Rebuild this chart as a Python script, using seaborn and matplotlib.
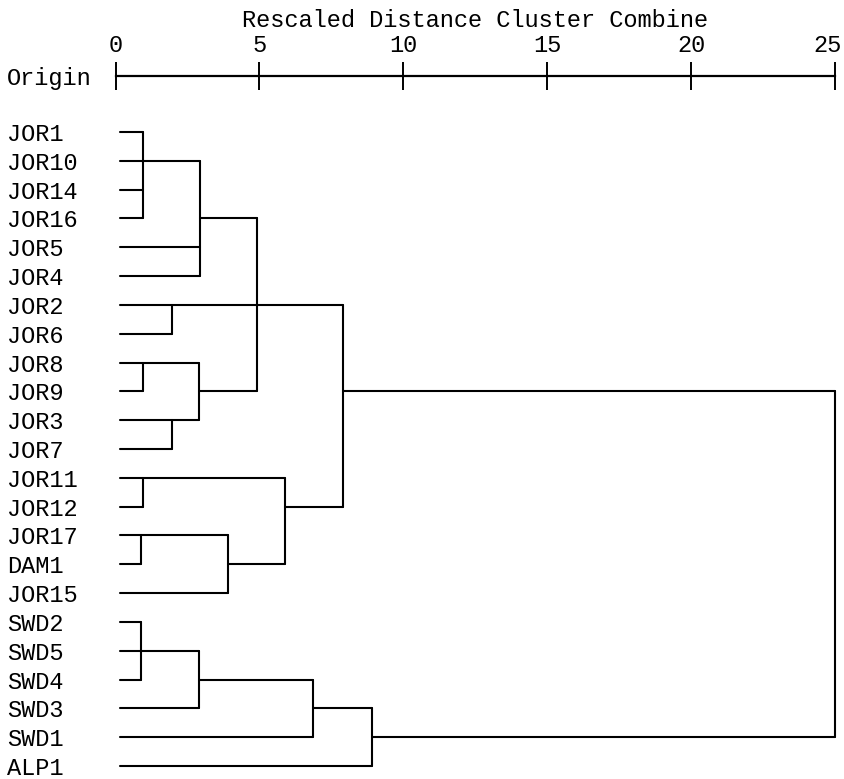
import matplotlib
matplotlib.use("Agg")
import matplotlib.pyplot as plt
import matplotlib.transforms as mtransforms
import pandas as pd
import seaborn as sns

# ---------------- data ----------------
leaf_labels = ["JOR1", "JOR10", "JOR14", "JOR16", "JOR5", "JOR4", "JOR2", "JOR6",
               "JOR8", "JOR9", "JOR3", "JOR7", "JOR11", "JOR12", "JOR17", "DAM1",
               "JOR15", "SWD2", "SWD5", "SWD4", "SWD3", "SWD1", "ALP1"]

# clusters: members (leaves or earlier clusters c0, c1, ...) and rescaled merge distance
merge_members = [
    ["JOR1", "JOR10", "JOR14", "JOR16"],  # c0
    ["c0", "JOR5", "JOR4"],               # c1
    ["JOR2", "JOR6"],                     # c2
    ["JOR8", "JOR9"],                     # c3
    ["JOR3", "JOR7"],                     # c4
    ["c3", "c4"],                         # c5
    ["c1", "c2", "c5"],                   # c6
    ["JOR11", "JOR12"],                   # c7
    ["JOR17", "DAM1"],                    # c8
    ["c8", "JOR15"],                      # c9
    ["c7", "c9"],                         # c10
    ["c6", "c10"],                        # c11
    ["SWD2", "SWD5", "SWD4"],             # c12
    ["c12", "SWD3"],                      # c13
    ["c13", "SWD1"],                      # c14
    ["c14", "ALP1"],                      # c15
    ["c11", "c15"],                       # c16
]
merge_distance = [0.95, 2.95, 1.95, 0.95, 1.95, 2.9, 4.9, 0.95, 0.9, 3.9,
                  5.9, 7.9, 0.9, 2.9, 6.85, 8.9, 25]

scale_ticks = [0, 5, 10, 15, 20, 25]
scale_title = "Rescaled Distance Cluster Combine"
origin_label = "Origin"

# ---------------- build segments ----------------
LEAF_START = 0.15
node = {}  # name -> (start x of its horizontal, connector row)
for i, lab in enumerate(leaf_labels):
    node[lab] = (LEAF_START, i)

rows = []
seg = 0
for k, (members, dist) in enumerate(zip(merge_members, merge_distance)):
    child_rows = [node[m][1] for m in members]
    lo, hi = min(child_rows), max(child_rows)
    # vertical joining line
    rows += [dict(seg=seg, x=dist, y=lo), dict(seg=seg, x=dist, y=hi)]
    seg += 1
    # horizontals from each member
    for m in members:
        x0, r = node[m]
        rows += [dict(seg=seg, x=x0, y=r), dict(seg=seg, x=dist, y=r)]
        seg += 1
    node[f"c{k}"] = (dist, (lo + hi) // 2)

df = pd.DataFrame(rows)

# ---------------- figure ----------------
sns.set_theme(style="white")
plt.rcParams["font.family"] = ["Liberation Mono", "DejaVu Sans Mono"]

W, H = 844, 779
fig = plt.figure(figsize=(W / 100, H / 100), dpi=100)

ax_left_px, ax_right_px = 115.5, 835.0
ax_top_px, row0_px, row_step = 76.0, 132.0, 28.82
ax_bottom_px = 776.0
ax = fig.add_axes([ax_left_px / W, 1 - ax_bottom_px / H,
                   (ax_right_px - ax_left_px) / W, (ax_bottom_px - ax_top_px) / H])

sns.lineplot(data=df, x="x", y="y", units="seg", estimator=None, sort=False,
             color="black", linewidth=1.5, legend=False, ax=ax)
for ln in ax.lines:
    ln.set_clip_on(False)

y_top = -(row0_px - ax_top_px) / row_step
y_bot = (ax_bottom_px - row0_px) / row_step
ax.set_xlim(0, 25)
ax.set_ylim(y_bot, y_top)

for s in ["left", "right", "bottom"]:
    ax.spines[s].set_visible(False)
ax.spines["top"].set_visible(True)
ax.spines["top"].set_color("black")
ax.spines["top"].set_linewidth(1.6)

ax.set_yticks([])
ax.xaxis.tick_top()
ax.set_xticks(scale_ticks)
ax.set_xticklabels([str(t) for t in scale_ticks])
ax.tick_params(axis="x", direction="inout", length=20, width=1.4, color="black",
               pad=3.5, labelsize=17, labelcolor="black", top=True, bottom=False)
# last label sits slightly left of its tick, as in the original print
last = ax.get_xticklabels()[-1]
last.set_transform(last.get_transform() +
                   mtransforms.ScaledTranslation(-8 / 100, 0, fig.dpi_scale_trans))
ax.set_ylabel("")
ax.xaxis.set_label_position("top")
ax.set_xlabel(scale_title, fontsize=17, color="black", labelpad=5.5)

# leaf labels and "Origin"
trans = mtransforms.blended_transform_factory(fig.transFigure, ax.transData)
for i, lab in enumerate(leaf_labels):
    ax.text(7 / W, i, lab, transform=trans, ha="left", va="center_baseline",
            fontsize=17, color="black", clip_on=False)
ax.text(7 / W, y_top, origin_label, transform=trans, ha="left",
        va="center_baseline", fontsize=17, color="black", clip_on=False)

fig.savefig("out.png", dpi=100, facecolor="white")
